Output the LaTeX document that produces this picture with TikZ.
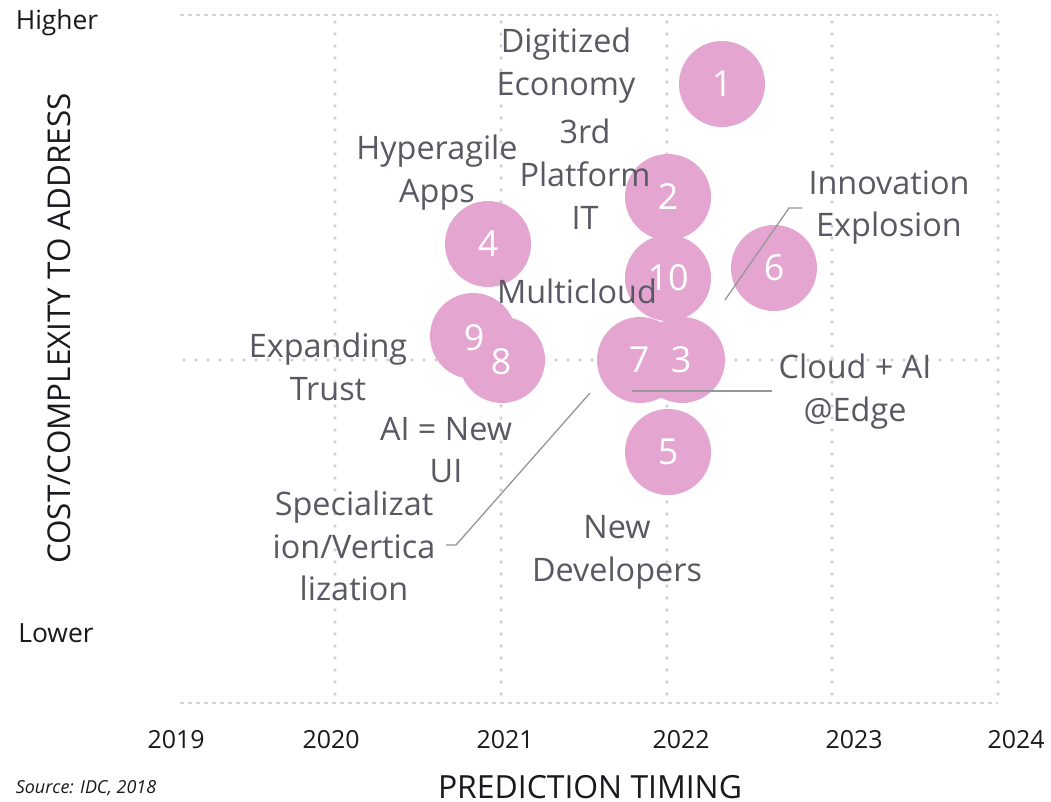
\documentclass[tikz,border=0pt]{standalone}
\usepackage{fontspec}
\setmainfont{Open Sans}
\definecolor{bubble}{RGB}{228,166,208}
\definecolor{labelgray}{RGB}{88,89,98}
\definecolor{gridgray}{RGB}{210,210,210}
\definecolor{leadgray}{RGB}{150,150,150}
\definecolor{axisblack}{RGB}{25,25,30}
\tikzset{
  gridline/.style={draw=gridgray, line width=3.8bp, dash pattern=on 0bp off 12bp, line cap=round},
  borderline/.style={draw=gridgray, line width=1.8bp, dash pattern=on 4bp off 4bp},
  bub/.style={circle, fill=bubble, minimum size=86bp, inner sep=0pt, text=white,
    font=\fontsize{36}{40}\selectfont},
  bubnum/.style={text=white, inner sep=0pt, font=\fontsize{36}{40}\selectfont},
  lbl/.style={align=center, text=labelgray, inner sep=0pt, font=\fontsize{32.5}{43}\selectfont},
  axis/.style={text=axisblack, inner sep=0pt, font=\fontsize{25}{30}\selectfont},
  leader/.style={draw=leadgray, line width=1.3bp}
}
\begin{document}
\begin{tikzpicture}[x=1bp,y=-1bp]
\useasboundingbox (0,0) rectangle (1051,802);
\fill[white] (0,0) rectangle (1051,802);
% grid
\draw[borderline] (180,15) -- (998,15);
\draw[borderline] (180,703) -- (998,703);
\foreach \gx in {335,501,667,832,998} {
  \draw[gridline] (\gx,22) -- (\gx,700);
}
\draw[gridline] (184,360) -- (998,360);
% bubbles
\node[bub] (b1) at (722,84) {1};
\node[bub] (b2) at (668,197) {2};
\node[bub] (b4) at (488,244) {4};
\node[bub] (b10) at (668,278) {10};
\node[bub] (b6) at (774,268) {6};
\node[bub] (b9) at (473,336) {};
\node[bub] (b8) at (502,360) {};
\node[bub] (b7) at (640,360) {};
\node[bub] (b3) at (682,360) {};
\node[bub] (b5) at (668,452) {5};
\node[bubnum] (n9) at (474,338) {9};
\node[bubnum] (n8) at (501,362) {8};
\node[bubnum] (n7) at (639,360) {7};
\node[bubnum] (n3) at (681,360) {3};
% labels
\node[lbl] (lDE) at (566,65.5) {Digitized\\Economy};
\node[lbl] (l3P) at (585,174) {3rd\\Platform\\IT};
\node[lbl] (lHA) at (437,172.5) {Hyperagile\\Apps};
\node[lbl] (lIE) at (889,207.5) {Innovation\\Explosion};
\node[lbl] (lMC) at (577,291) {Multicloud};
\node[lbl] (lET) at (328,366.5) {Expanding\\Trust};
\node[lbl] (lAI) at (446,450) {AI = New\\UI};
\node[lbl] (lSV) at (354,546) {Specializat\\ion/Vertica\\lization};
\node[lbl] (lND) at (617,552) {New\\Developers};
\node[lbl] (lCE) at (855,391.5) {Cloud + AI\\@Edge};
% leader lines
\coordinate (ieA) at (725,300);
\coordinate (ieB) at (789,208);
\coordinate (ieC) at (802,208);
\draw[leader] (ieA) -- (ieB) -- (ieC);
\coordinate (ceA) at (632,391);
\coordinate (ceB) at (772,391);
\draw[leader] (ceA) -- (ceB);
\coordinate (svA) at (590,393);
\coordinate (svB) at (456,545);
\coordinate (svC) at (446,545);
\draw[leader] (svA) -- (svB) -- (svC);
% axes text
\node[axis, font=\fontsize{26.5}{30}\selectfont] (hi) at (57,23) {Higher};
\node[axis, font=\fontsize{26.5}{30}\selectfont] (lo) at (56,633) {Lower};
\node[axis] (y19) at (176,740) {2019};
\node[axis] (y20) at (331,740) {2020};
\node[axis] (y21) at (505,740) {2021};
\node[axis] (y22) at (681,740) {2022};
\node[axis] (y23) at (854,740) {2023};
\node[axis] (y24) at (1016,740) {2024};
\node[text=axisblack, inner sep=0pt, anchor=base, font=\fontsize{32}{36}\selectfont] (xt) at (590,798) {PREDICTION TIMING};
\node[text=axisblack, inner sep=0pt, font=\fontsize{31.5}{36}\selectfont, rotate=90] (yt) at (59,328.5) {COST/COMPLEXITY TO ADDRESS};
\node[text=axisblack, inner sep=0pt, font=\itshape\fontsize{18}{22}\selectfont] (src) at (86,788) {Source: IDC, 2018};
\end{tikzpicture}
\end{document}
